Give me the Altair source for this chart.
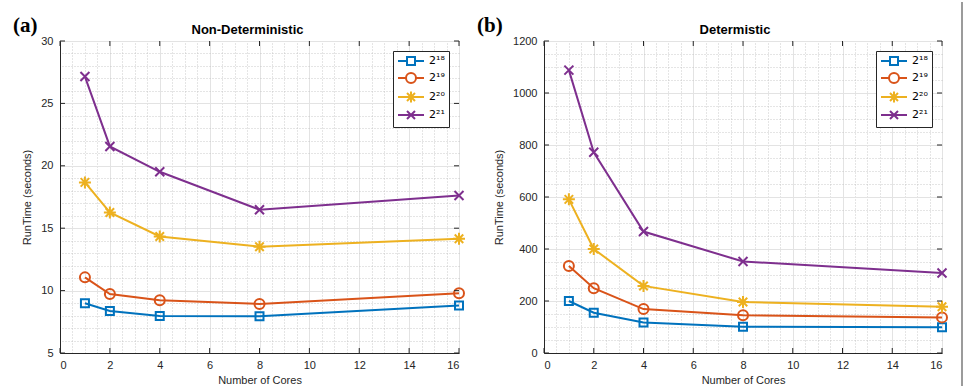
import altair as alt
import pandas as pd

cores = [1, 2, 4, 8, 16]
series = ["2¹⁸", "2¹⁹", "2²⁰", "2²¹"]
colors = ["#0072BD", "#D95319", "#EDB120", "#7E2F8E"]

nondet_218 = [8.98, 8.37, 7.97, 7.94, 8.80]
nondet_219 = [11.06, 9.73, 9.22, 8.93, 9.78]
nondet_220 = [18.67, 16.26, 14.34, 13.52, 14.15]
nondet_221 = [27.15, 21.55, 19.52, 16.48, 17.62]

det_218 = [200, 155, 117, 101, 99]
det_219 = [335, 249, 169, 145, 137]
det_220 = [591, 400, 258, 196, 178]
det_221 = [1088, 772, 467, 352, 308]

x_major = [0, 2, 4, 6, 8, 10, 12, 14, 16]
x_minor = [i * 0.5 for i in range(33)]
nd_major = [5, 10, 15, 20, 25, 30]
nd_minor = list(range(5, 31))
d_major = [0, 200, 400, 600, 800, 1000, 1200]
d_minor = list(range(0, 1201, 50))

marker_paths = [
    "M-0.8,-0.8L0.8,-0.8L0.8,0.8L-0.8,0.8Z",
    "M1,0A1,1,0,1,1,-1,0A1,1,0,1,1,1,0Z",
    "M-1.2,0L1.2,0M0,-1.2L0,1.2M-0.85,-0.85L0.85,0.85M-0.85,0.85L0.85,-0.85",
    "M-0.9,-0.9L0.9,0.9M-0.9,0.9L0.9,-0.9",
]
legend_paths = [
    "M-2.6,0L-0.8,0M0.8,0L2.6,0M-0.8,-0.8L0.8,-0.8L0.8,0.8L-0.8,0.8Z",
    "M-2.6,0L-1,0M1,0L2.6,0M1,0A1,1,0,1,1,-1,0A1,1,0,1,1,1,0Z",
    "M-2.6,0L2.6,0M0,-1.1L0,1.1M-0.8,-0.8L0.8,0.8M-0.8,0.8L0.8,-0.8",
    "M-2.6,0L2.6,0M-0.8,-0.8L0.8,0.8M-0.8,0.8L0.8,-0.8",
]

FONT = "Liberation Sans"
AX = "#262626"
H = 312


def make_df(vals):
    rows = []
    for s, v in zip(series, vals):
        for c, t in zip(cores, v):
            rows.append({"cores": c, "time": t, "series": s})
    return pd.DataFrame(rows)


def panel(df, title, tag, tag_dx, ydomain, ymajor, yminor, width, title_dx, border=False):
    xs = alt.Scale(domain=[0, 16], nice=False, zero=False)
    ys = alt.Scale(domain=ydomain, nice=False, zero=False)
    grid_minor = alt.Chart(df).mark_point(opacity=0).encode(
        x=alt.X("cores:Q", scale=xs, axis=alt.Axis(orient="top", values=x_minor, grid=True,
                gridDash=[1, 2], gridColor="#bdbdbd", gridWidth=0.8, labels=False, ticks=False,
                domain=False, title=None)),
        y=alt.Y("time:Q", scale=ys, axis=alt.Axis(orient="right", values=yminor, grid=True,
                gridDash=[1, 2], gridColor="#bdbdbd", gridWidth=0.8, labels=False, ticks=False,
                domain=False, title=None)),
    )
    lines = alt.Chart(df).mark_line(strokeWidth=2).encode(
        x=alt.X("cores:Q", scale=xs, axis=alt.Axis(orient="bottom", values=x_major, grid=True,
                gridColor="#e3e3e3", ticks=False, title="Number of Cores", labelPadding=6,
                titlePadding=4, domainColor=AX, format="d")),
        y=alt.Y("time:Q", scale=ys, axis=alt.Axis(orient="left", values=ymajor, grid=True,
                gridColor="#e3e3e3", ticks=False, title="RunTime (seconds)", labelPadding=7,
                titlePadding=8, domainColor=AX, format="d")),
        color=alt.Color("series:N", scale=alt.Scale(domain=series, range=colors), legend=None),
    )
    points = alt.Chart(df).mark_point(filled=False, strokeWidth=2, size=100, opacity=1).encode(
        x=alt.X("cores:Q", scale=xs, axis=None),
        y=alt.Y("time:Q", scale=ys, axis=None),
        color=alt.Color("series:N", scale=alt.Scale(domain=series, range=colors), legend=None),
        shape=alt.Shape("series:N", scale=alt.Scale(domain=series, range=marker_paths), legend=None),
    )
    leg = alt.Legend(title=None, orient="top-right", offset=10, fillColor="white",
                     strokeColor=AX, padding=4, labelFont="DejaVu Sans", labelFontSize=11,
                     labelColor="#000", symbolSize=100, symbolStrokeWidth=2,
                     symbolOffset=8, labelOffset=12, rowPadding=0)
    legend_layer = alt.Chart(df).transform_filter("false").mark_point(
        filled=False, strokeWidth=2, size=100, opacity=1).encode(
        x=alt.X("cores:Q", scale=xs, axis=None),
        y=alt.Y("time:Q", scale=ys, axis=None),
        color=alt.Color("series:N", scale=alt.Scale(domain=series, range=colors), legend=leg),
        shape=alt.Shape("series:N", scale=alt.Scale(domain=series, range=legend_paths), legend=leg),
    )
    xt = pd.DataFrame({"v": x_major})
    yt = pd.DataFrame({"v": ymajor})
    tick_b = alt.Chart(xt).mark_rule(color=AX, strokeWidth=1).encode(
        x=alt.X("v:Q", scale=xs, axis=None), y=alt.value(H), y2=alt.value(H - 5))
    tick_t = alt.Chart(xt).mark_rule(color=AX, strokeWidth=1).encode(
        x=alt.X("v:Q", scale=xs, axis=None), y=alt.value(0), y2=alt.value(5))
    tick_l = alt.Chart(yt).mark_rule(color=AX, strokeWidth=1).encode(
        y=alt.Y("v:Q", scale=ys, axis=None), x=alt.value(0), x2=alt.value(5))
    tick_r = alt.Chart(yt).mark_rule(color=AX, strokeWidth=1).encode(
        y=alt.Y("v:Q", scale=ys, axis=None), x=alt.value(width), x2=alt.value(width - 5))
    tag_layer = alt.Chart(pd.DataFrame({"t": [tag]})).mark_text(
        font="Liberation Serif", fontWeight="bold", fontSize=21, align="left",
        baseline="alphabetic", color="#000").encode(
        text="t:N", x=alt.value(tag_dx), y=alt.value(-9))
    title_layer = alt.Chart(pd.DataFrame({"t": [title]})).mark_text(
        font=FONT, fontWeight="bold", fontSize=13, align="center",
        baseline="alphabetic", color="#000").encode(
        text="t:N", x=alt.value(width / 2 + title_dx), y=alt.value(-7))
    layers = [grid_minor, lines, points, legend_layer, tick_b, tick_t, tick_l, tick_r,
              tag_layer, title_layer]
    if border:
        layers.append(alt.Chart(pd.DataFrame({"t": [0]})).mark_rule(
            color="#7a7a7a", strokeWidth=1.5).encode(
            x=alt.value(width + 20), y=alt.value(-39), y2=alt.value(347)))
    return alt.layer(*layers).resolve_scale(
        color="independent", shape="independent"
    ).resolve_axis(x="independent", y="independent").properties(
        width=width, height=H,
    )


left = panel(make_df([nondet_218, nondet_219, nondet_220, nondet_221]), "Non-Deterministic",
             "(a)", -47, [5, 30], nd_major, nd_minor, 399, -12)
right = panel(make_df([det_218, det_219, det_220, det_221]), "Determistic",
              "(b)", -67, [0, 1200], d_major, d_minor, 398, -8, border=True)

chart = alt.hconcat(left, right, spacing=6).properties(
    padding={"left": 12, "top": 0, "right": 0, "bottom": 0}, background="white"
).configure_view(stroke=AX, strokeWidth=1).configure_axis(
    labelFont=FONT, labelFontSize=11, labelColor=AX, titleFont=FONT, titleFontSize=11,
    titleFontWeight="normal", titleColor=AX
)

chart.save("out.html", embed_options={"renderer": "svg", "actions": False})
